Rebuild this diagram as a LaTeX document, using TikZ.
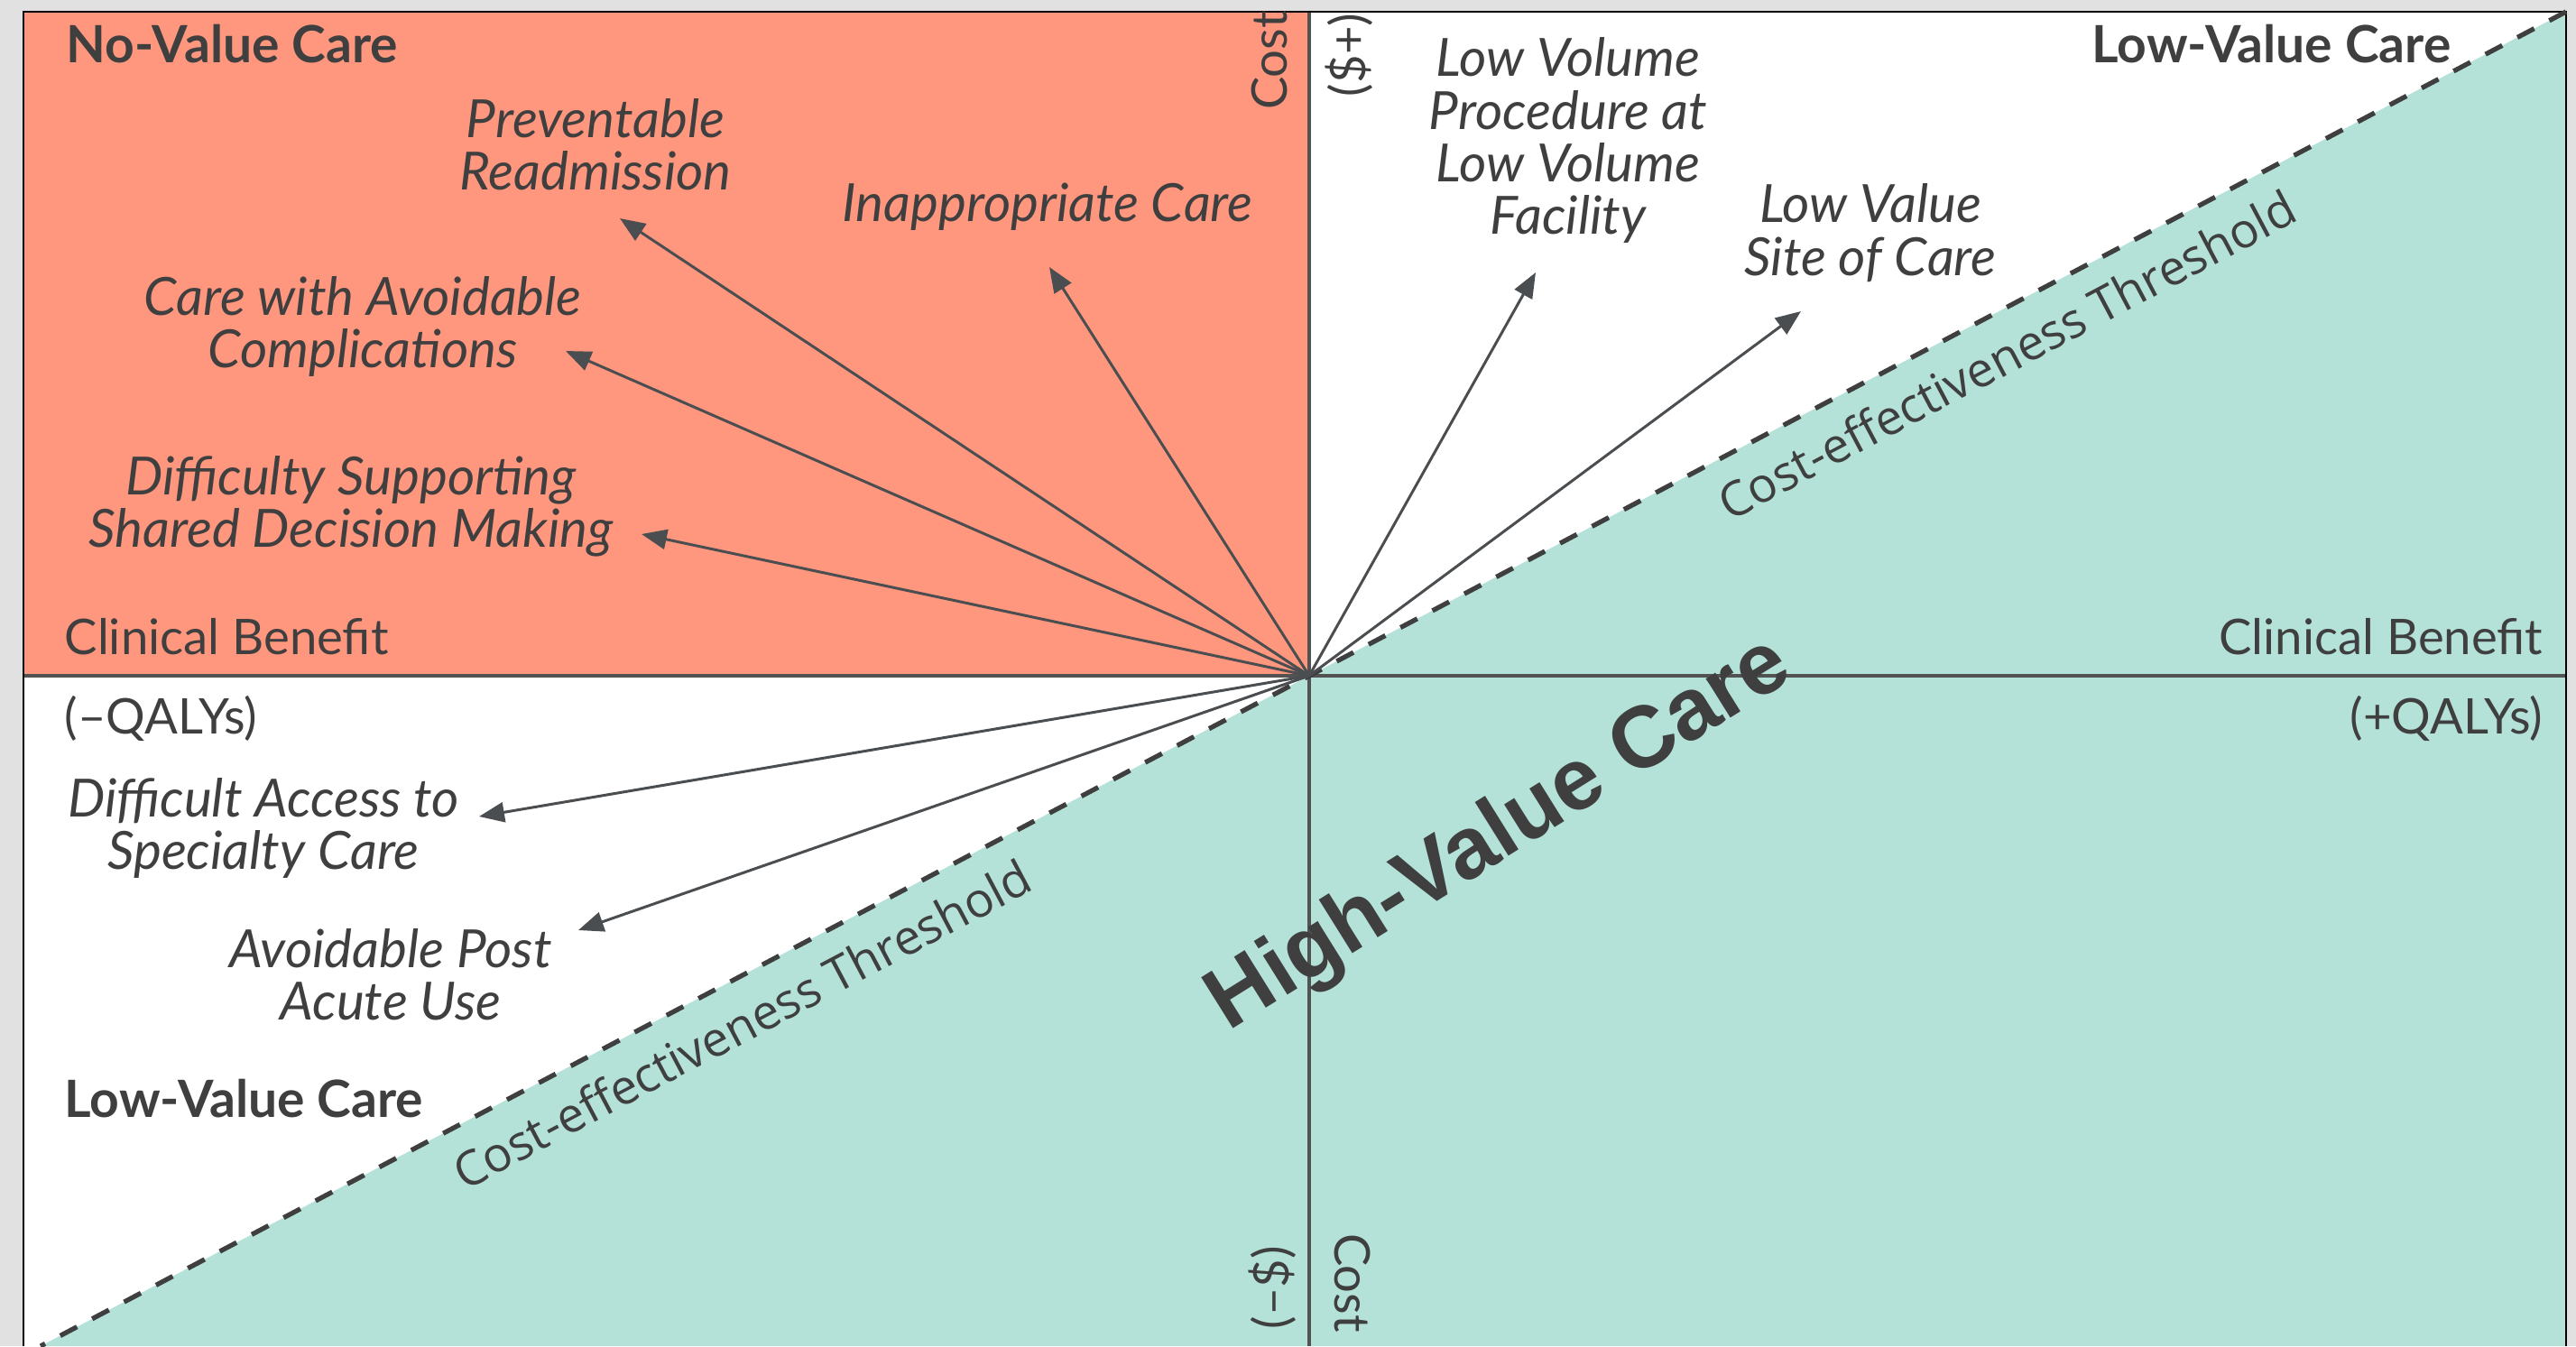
\documentclass[tikz,border=0pt]{standalone}
\usepackage{fontspec}
\setmainfont{Lato}
\newfontfamily\threshfont{Open Sans}
\newfontfamily\hvfont{Liberation Sans}
\usetikzlibrary{arrows.meta}

\definecolor{pagegray}{HTML}{E1E1E1}
\definecolor{novalue}{HTML}{FF977E}
\definecolor{highvalue}{HTML}{B5E2D8}
\definecolor{ink}{HTML}{3F3F3F}
\definecolor{arrowgray}{HTML}{4A4E50}

\begin{document}
\begin{tikzpicture}[
  lbl/.style={text=ink, inner sep=0pt, font=\fontsize{15.5}{16.5}\selectfont},
  item/.style={lbl, align=center, font=\fontsize{16.6}{16.6}\selectfont\itshape},
  quad/.style={lbl, font=\fontsize{16.2}{16.5}\selectfont\bfseries},
  thresh/.style={lbl, rotate=27.86, font=\fontsize{15.2}{15.2}\selectfont\threshfont},
  pointer/.style={arrowgray, line width=0.85pt, -{Triangle[length=2.8mm, width=2.2mm]}},
  axis/.style={draw=ink!90, line width=1pt},
]
  \fill[pagegray] (-14.51,-7.43) rectangle (14.04,7.49);
  \useasboundingbox (-14.51,-7.43) rectangle (14.04,7.49);

  \coordinate (o) at (0,0);
  \coordinate (ne) at (13.93,7.36);
  \coordinate (sw) at (-14.06,-7.43);

  % quadrants
  \fill[white] (-14.25,-7.43) rectangle (13.93,7.36);
  \fill[novalue] (-14.25,0) rectangle (0,7.36);
  \fill[highvalue] (sw) -- (ne) -- (13.93,-7.43) -- cycle;

  \draw[axis] (-14.25,0) -- (13.93,0);
  \draw[axis] (0,7.36) -- (0,-7.43);
  \draw[black, line width=0.6pt] (-14.25,-7.43) -- (-14.25,7.36) -- (13.93,7.36) -- (13.93,-7.43);
  \draw[ink, line width=1.5pt, dash pattern=on 0.21cm off 0.19cm] (ne) -- (sw);

  % axis labels
  \node[lbl, anchor=west] (benl) at (-13.80,0.43) {Clinical Benefit};
  \node[lbl, anchor=east] (benr) at (13.68,0.43) {Clinical Benefit};
  \node[lbl, anchor=west] (qalyl) at (-13.80,-0.47) {(–QALYs)};
  \node[lbl, anchor=east] (qalyr) at (13.68,-0.47) {(+QALYs)};
  \node[lbl, rotate=90] (costup) at (-0.44,6.82) {Cost};
  \node[lbl, rotate=90] (plus) at (0.44,6.88) {(\$+)};
  \node[lbl, rotate=90] (minus) at (-0.41,-6.78) {(–\$)};
  \node[lbl, rotate=-90] (costdn) at (0.48,-6.73) {Cost};

  % quadrant names
  \node[quad, anchor=west] (noval) at (-13.78,7.00) {No-Value Care};
  \node[quad, anchor=east] (lowne) at (12.66,7.00) {Low-Value Care};
  \node[quad, anchor=west] (lowsw) at (-13.80,-4.69) {Low-Value Care};
  \node[lbl, rotate=32, font=\fontsize{27.5}{27.5}\selectfont\hvfont\bfseries] (hival) at (2.12,-1.77) {High-Value Care};
  \node[thresh] (th1) at (7.73,3.56) {Cost-effectiveness Threshold};
  \node[thresh] (th2) at (-6.29,-3.86) {Cost-effectiveness Threshold};

  % examples
  \node[item] (readm) at (-7.91,5.89) {Preventable\\Readmission};
  \node[item] (inapp) at (-2.90,5.20) {Inappropriate Care};
  \node[item] (compl) at (-10.49,3.87) {Care with Avoidable\\Complications};
  \node[item] (shared) at (-10.62,1.88) {Difficulty Supporting\\Shared Decision Making};
  \node[item] (access) at (-11.59,-1.69) {Difficult Access to\\Specialty Care};
  \node[item] (postac) at (-10.18,-3.31) {Avoidable Post\\Acute Use};
  \node[item] (lowvol) at (2.87,5.93) {Low Volume\\Procedure at\\Low Volume\\Facility};
  \node[item] (site) at (6.22,4.91) {Low Value\\Site of Care};

  \coordinate (readm-tip) at (-7.64,5.07);
  \coordinate (inapp-tip) at (-2.88,4.53);
  \coordinate (compl-tip) at (-8.24,3.60);
  \coordinate (shared-tip) at (-7.40,1.57);
  \coordinate (access-tip) at (-9.20,-1.56);
  \coordinate (postac-tip) at (-8.10,-2.82);
  \coordinate (lowvol-tip) at (2.51,4.47);
  \coordinate (site-tip) at (5.45,4.04);

  \foreach \t in {readm,inapp,compl,shared,access,postac,lowvol,site}
    \draw[pointer] (o) -- (\t-tip);
\end{tikzpicture}
\end{document}
